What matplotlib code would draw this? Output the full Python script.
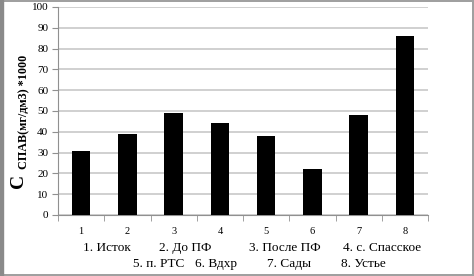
import matplotlib.pyplot as plt

plt.rcParams['font.family'] = ['Liberation Serif', 'DejaVu Serif']

points = ["1", "2", "3", "4", "5", "6", "7", "8"]
values = [31, 39, 49, 44, 38, 22, 48, 86]
names_row1 = ["1. Исток", "2. До ПФ", "3. После ПФ", "4. с. Спасское"]
names_row2 = ["5. п. РТС", "6. Вдхр", "7. Сады", "8. Устье"]

W, H = 474, 276
fig = plt.figure(figsize=(W / 100, H / 100), dpi=100)
fig.patch.set_edgecolor("#a0a0a0")
fig.patch.set_linewidth(1.5)
# darker strip on the left edge
fig.patches.append(plt.Rectangle((0, 0), 3 / W, 1, transform=fig.transFigure,
                                 color="#8a8a8a", zorder=5))

ax = fig.add_axes([58 / W, 1 - 215 / H, 370 / W, 208 / H])
x = list(range(len(points)))
ax.bar(x, values, width=0.4, color="black", zorder=3)

ax.set_xlim(-0.5, len(points) - 0.5)
ax.set_ylim(0, 100)
ax.set_yticks(range(0, 101, 10))
ax.set_xticks(x)
ax.set_xticklabels(points)
ax.set_xticks([i - 0.5 for i in range(len(points) + 1)], minor=True)
ax.tick_params(axis="x", which="major", length=0, pad=9, labelsize=7.5)
ax.tick_params(axis="x", which="minor", length=4, color="#909090")
ax.tick_params(axis="y", length=4, color="#909090", labelsize=8, pad=3)
ax.grid(axis="y", color="#c8c8c8", linewidth=1.2, zorder=0)
for s in ["top", "right"]:
    ax.spines[s].set_visible(False)
for s in ["left", "bottom"]:
    ax.spines[s].set_color("#909090")

# y-axis label: big C with small subscript
fig.text(10 / W, 1 - 188 / H, "С", rotation=90, fontsize=14, fontweight="bold",
         ha="left", va="bottom")
fig.text(18 / W, 1 - 169 / H, "СПАВ(мг/дм3) *1000", rotation=90, fontsize=8.7,
         fontweight="bold", ha="left", va="bottom")

# legend of sampling points
for name, px in zip(names_row1, [83, 159, 249, 343]):
    fig.text(px / W, 1 - 248 / H, name, fontsize=9.5, ha="left", va="center")
for name, px in zip(names_row2, [133, 195, 267, 341]):
    fig.text(px / W, 1 - 264 / H, name, fontsize=9.5, ha="left", va="center")

fig.savefig("out.png", dpi=100)
